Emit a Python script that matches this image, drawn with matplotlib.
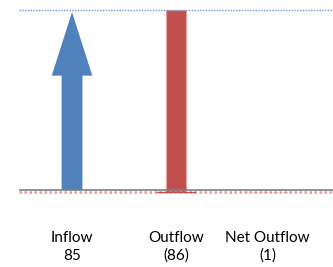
import matplotlib
matplotlib.use('Agg')
import matplotlib.pyplot as plt
import matplotlib.transforms as mtransforms

categories = ['Inflow', 'Outflow', 'Net Outflow']
values = [85, -86, -1]
value_labels = ['85', '(86)', '(1)']
xpos = [0, 1, 1.88]

plt.rcParams['font.family'] = ['Lato', 'DejaVu Sans']

W, H = 333, 267
fig = plt.figure(figsize=(W / 100, H / 100), dpi=100)
# axes in pixel terms: x 19..333, y 0..210 from the top
ax = fig.add_axes([19 / W, (H - 210) / H, (W - 19) / W, 210 / H])
ax.set_xlim(-0.51, 2.51)
ax.set_ylim(-9.44, 89.72)
ax.axis('off')

blue = '#4F81BD'
red = '#C0504D'

inflow = values[0]
end = values[0] + values[1]

# inflow arrow
ax.arrow(xpos[0], 0, 0, inflow - 1, width=0.2, head_width=0.39, head_length=30,
         length_includes_head=True, color=blue, linewidth=0)

# outflow bar from top down to net level
ax.bar(xpos[1], values[1], bottom=inflow, width=0.2, color=red,
       edgecolor='#E6A5A3', linewidth=0.8)

# net outflow tiny bar
ax.bar(xpos[2], values[2], width=0.4, color='none', edgecolor='#E6A5A3',
       linewidth=0.6, linestyle=(0, (2, 2)))

# reference lines
ax.axhline(inflow, color='#6C9AD6', linestyle=(0, (1, 1)), linewidth=1.0)
ax.axhline(0, color='#808080', linewidth=1.2)
ax.axhline(end, color='#E89A98', linestyle=(0, (1, 1)), linewidth=1.8)
ax.plot([xpos[1] - 0.18, xpos[1] + 0.18], [end, end], color=red, linewidth=1.0)

trans = mtransforms.blended_transform_factory(ax.transData, fig.transFigure)
for x, c, v in zip(xpos, categories, value_labels):
    ax.text(x, (H - 238) / H, c, transform=trans, ha='center', va='center',
            fontsize=11, color='#000000')
    ax.text(x, (H - 256) / H, v, transform=trans, ha='center', va='center',
            fontsize=11, color='#000000')

fig.savefig('out.png', dpi=100)
